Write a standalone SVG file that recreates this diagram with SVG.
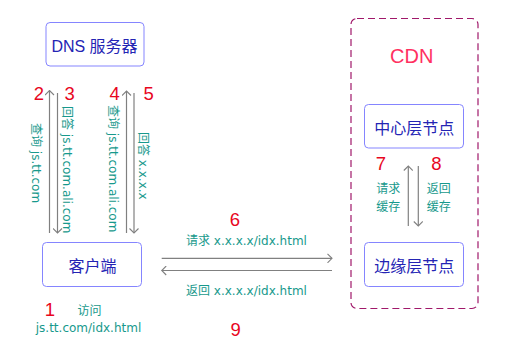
<svg xmlns="http://www.w3.org/2000/svg" width="511" height="350" viewBox="0 0 511 350">
<defs>
<style>
.node{fill:#fff;stroke:#8585ff;stroke-width:1}
.nt{font-family:"Liberation Sans","Noto Sans CJK SC",sans-serif;font-size:16px;fill:#2424b4;text-anchor:middle}
.num{font-family:"Liberation Sans",sans-serif;font-size:18.5px;fill:#e8061e;text-anchor:middle}
.lbl{font-family:"DejaVu Sans","Noto Sans CJK SC",sans-serif;font-size:12px;fill:#17998c}
.c{text-anchor:middle}
.ln{stroke:#808080;stroke-width:1.2;fill:none}
</style>
<marker id="ah" viewBox="-6 -5 7 10" markerWidth="7" markerHeight="10" refX="0" refY="0" orient="auto" markerUnits="userSpaceOnUse">
<path d="M-4.5,-4.5 L0,0 L-4.5,4.5" fill="none" stroke="#808080" stroke-width="1.1"/>
</marker>
</defs>
<rect width="511" height="350" fill="#fff"/>

<g id="cdn">
<rect x="351" y="18.5" width="127" height="290" rx="6" fill="none" stroke="#a0186a" stroke-width="1.2" stroke-dasharray="7,4"/>
<text x="411.7" y="63" font-family="Liberation Sans,sans-serif" font-size="20" fill="#ff3060" text-anchor="middle">CDN</text>
</g>

<g id="dns">
<rect class="node" x="46" y="22.5" width="98" height="43.5" rx="4"/>
<text class="nt" x="94.5" y="51.7">DNS 服务器</text>
</g>

<g id="client">
<rect class="node" x="42.5" y="242.5" width="99" height="44" rx="4"/>
<text class="nt" x="92.5" y="271.5">客户端</text>
</g>

<g id="center">
<rect class="node" x="364.5" y="104.5" width="99" height="43.5" rx="4"/>
<text class="nt" x="414.2" y="134">中心层节点</text>
</g>

<g id="edge">
<rect class="node" x="364.5" y="242.5" width="99" height="44" rx="4"/>
<text class="nt" x="414.2" y="271.5">边缘层节点</text>
</g>

<g id="connectors">
<line class="ln" x1="49.5" y1="233" x2="49.5" y2="90.5" marker-end="url(#ah)"/>
<line class="ln" x1="57.5" y1="93" x2="57.5" y2="233" marker-end="url(#ah)"/>
<line class="ln" x1="126.5" y1="233" x2="126.5" y2="91" marker-end="url(#ah)"/>
<line class="ln" x1="134" y1="93" x2="134" y2="233" marker-end="url(#ah)"/>
<line class="ln" x1="161.7" y1="258.3" x2="332" y2="258.3" marker-end="url(#ah)"/>
<line class="ln" x1="332" y1="270.5" x2="161.7" y2="270.5" marker-end="url(#ah)"/>
<line class="ln" x1="408.3" y1="226" x2="408.3" y2="166" marker-end="url(#ah)"/>
<line class="ln" x1="418.3" y1="166" x2="418.3" y2="226" marker-end="url(#ah)"/>
</g>

<g id="labels">
<text class="lbl" transform="translate(31.5,123) rotate(90)">查询 js.tt.com</text>
<text class="lbl" transform="translate(62.5,106) rotate(90)">回答 js.tt.com.ali.com</text>
<text class="lbl" transform="translate(108.5,105) rotate(90)">查询 js.tt.com.ali.com</text>
<text class="lbl" transform="translate(138.5,132) rotate(90)">回答 x.x.x.x</text>
<text class="lbl c" x="246.5" y="245">请求 x.x.x.x/idx.html</text>
<text class="lbl c" x="246.5" y="295">返回 x.x.x.x/idx.html</text>
<text class="lbl c" x="89.5" y="314.5">访问</text>
<text class="lbl c" x="88.5" y="332">js.tt.com/idx.html</text>
<text class="lbl c" x="388.2" y="193">请求</text>
<text class="lbl c" x="388.2" y="211">缓存</text>
<text class="lbl c" x="438.8" y="193">返回</text>
<text class="lbl c" x="438.8" y="211">缓存</text>
</g>

<g id="numbers">
<text class="num" x="50" y="315.7">1</text>
<text class="num" x="39" y="100">2</text>
<text class="num" x="69.7" y="100">3</text>
<text class="num" x="114.7" y="99.5">4</text>
<text class="num" x="148.7" y="99.5">5</text>
<text class="num" x="235" y="226">6</text>
<text class="num" x="381" y="170">7</text>
<text class="num" x="436.3" y="170">8</text>
<text class="num" x="235.7" y="336">9</text>
</g>
</svg>
